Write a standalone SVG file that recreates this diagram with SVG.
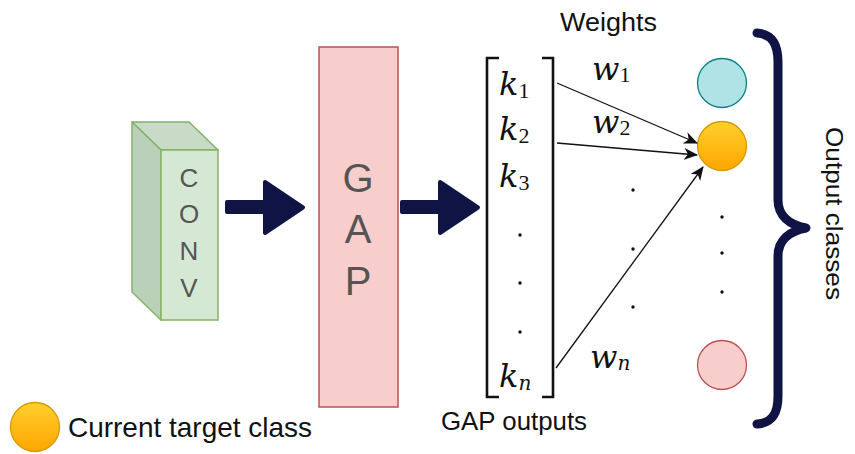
<svg xmlns="http://www.w3.org/2000/svg" width="855" height="454" viewBox="0 0 855 454">
<style>
.lbl{font-family:"Liberation Sans",Arial,sans-serif;fill:#555555;text-anchor:middle}
.hand{font-family:"Liberation Sans",Arial,sans-serif;fill:#111111}
.math{font-family:"DejaVu Serif","Liberation Serif",serif;font-style:italic;fill:#111111;font-size:32px}
.sub{font-family:"Liberation Serif",serif;font-style:normal;font-size:22px}
.subi{font-family:"DejaVu Serif",serif;font-style:italic;font-size:20px}
.fat{fill:#0f1445;stroke:#0f1445;stroke-width:4;stroke-linejoin:round}
.conn{stroke:#111111;stroke-width:1.3;fill:none}
.dot{fill:#111111}
</style>
<defs>
<linearGradient id="og" x1="0" y1="0" x2="0" y2="1">
<stop offset="0" stop-color="#ffd02e"/>
<stop offset="1" stop-color="#ffa500"/>
</linearGradient>
<marker id="ah" markerUnits="userSpaceOnUse" markerWidth="14" markerHeight="12" viewBox="0 0 14 12" refX="13" refY="6" orient="auto">
<path d="M0,0 L14,6 L0,12 L4,6 Z" fill="#111111"/>
</marker>
</defs>
<rect width="855" height="454" fill="#ffffff"/>

<g id="conv">
<polygon points="132,122 189,122 218,150 161,150" fill="#c8dbc6" stroke="#82b366" stroke-width="1.5" stroke-linejoin="round"/>
<polygon points="132,122 161,150 161,320 132,292" fill="#bbd0b9" stroke="#82b366" stroke-width="1.5" stroke-linejoin="round"/>
<rect x="161" y="150" width="57" height="170" fill="#d5e8d4" stroke="#82b366" stroke-width="1.5"/>
<text class="lbl" x="189" y="187" font-size="26">C</text>
<text class="lbl" x="189" y="223" font-size="26">O</text>
<text class="lbl" x="189" y="260" font-size="26">N</text>
<text class="lbl" x="189" y="297" font-size="26">V</text>
</g>

<g id="gap">
<rect x="319" y="47" width="79" height="360" fill="#f8cecc" stroke="#b85450" stroke-width="1.5"/>
<text class="lbl" x="358" y="192" font-size="40">G</text>
<text class="lbl" x="358" y="243" font-size="40">A</text>
<text class="lbl" x="358" y="295" font-size="40">P</text>
</g>

<g id="gap-outputs">
<path d="M499,58 L487,58 L487,397 L499,397" fill="none" stroke="#111111" stroke-width="2.6"/>
<path d="M542,58 L553,58 L553,397 L542,397" fill="none" stroke="#111111" stroke-width="2.6"/>
<text class="math" x="499" y="95">k<tspan class="sub" dy="3">1</tspan></text>
<text class="math" x="499" y="140">k<tspan class="sub" dy="3">2</tspan></text>
<text class="math" x="499" y="187">k<tspan class="sub" dy="3">3</tspan></text>
<circle class="dot" cx="520" cy="235" r="1.7"/>
<circle class="dot" cx="520" cy="283" r="1.7"/>
<circle class="dot" cx="520" cy="332" r="1.7"/>
<text class="math" x="499" y="387">k<tspan class="subi" dy="3">n</tspan></text>
<text class="hand" x="441" y="430" font-size="26" textLength="146" lengthAdjust="spacingAndGlyphs">GAP outputs</text>
</g>

<g id="weights">
<text class="hand" x="560" y="31" font-size="26" textLength="97" lengthAdjust="spacingAndGlyphs">Weights</text>
<text class="math" x="592" y="80">w<tspan class="sub" dy="2">1</tspan></text>
<text class="math" x="592" y="133">w<tspan class="sub" dy="2">2</tspan></text>
<circle class="dot" cx="633" cy="190" r="1.7"/>
<circle class="dot" cx="633" cy="249" r="1.7"/>
<circle class="dot" cx="633" cy="307" r="1.7"/>
<text class="math" x="590" y="368">w<tspan class="subi" dy="2">n</tspan></text>
</g>

<g id="class-1">
<circle cx="722" cy="83" r="24.5" fill="#b0e3e6" stroke="#0e8088" stroke-width="1.3"/>
</g>
<g id="class-target">
<circle cx="722" cy="146" r="24.5" fill="url(#og)" stroke="#d79b00" stroke-width="1.3"/>
</g>
<g id="class-dots">
<circle class="dot" cx="722" cy="217" r="1.7"/>
<circle class="dot" cx="722" cy="253" r="1.7"/>
<circle class="dot" cx="722" cy="292" r="1.7"/>
</g>
<g id="class-n">
<circle cx="722" cy="365" r="24.5" fill="#f8cecc" stroke="#b85450" stroke-width="1.3"/>
</g>

<g id="output-classes">
<path d="M757,33 C772,34 778,44 778,62 L778,200 C778,216 790,225 806,228 C790,231 778,240 778,256 L778,396 C778,414 772,423 757,424" fill="none" stroke="#0f1445" stroke-width="9" stroke-linecap="round" stroke-linejoin="round"/>
<text class="hand" transform="translate(826,127) rotate(90)" x="0" y="0" font-size="24" textLength="173" lengthAdjust="spacingAndGlyphs">Output classes</text>
</g>

<g id="legend">
<circle cx="35" cy="427" r="24.5" fill="url(#og)" stroke="#d79b00" stroke-width="1.3"/>
<text class="hand" x="68" y="437" font-size="28" textLength="244" lengthAdjust="spacingAndGlyphs">Current target class</text>
</g>

<g id="connectors">
<path class="fat" d="M227,202 L265,202 L265,182 L303,207.5 L265,233 L265,212 L227,212 Z"/>
<path class="fat" d="M402,202 L440,202 L440,182 L478,207.5 L440,233 L440,212 L402,212 Z"/>
<line class="conn" x1="557" y1="83" x2="697" y2="143" marker-end="url(#ah)"/>
<line class="conn" x1="557" y1="143" x2="697" y2="155" marker-end="url(#ah)"/>
<line class="conn" x1="556" y1="368" x2="703" y2="167" marker-end="url(#ah)"/>
</g>
</svg>
